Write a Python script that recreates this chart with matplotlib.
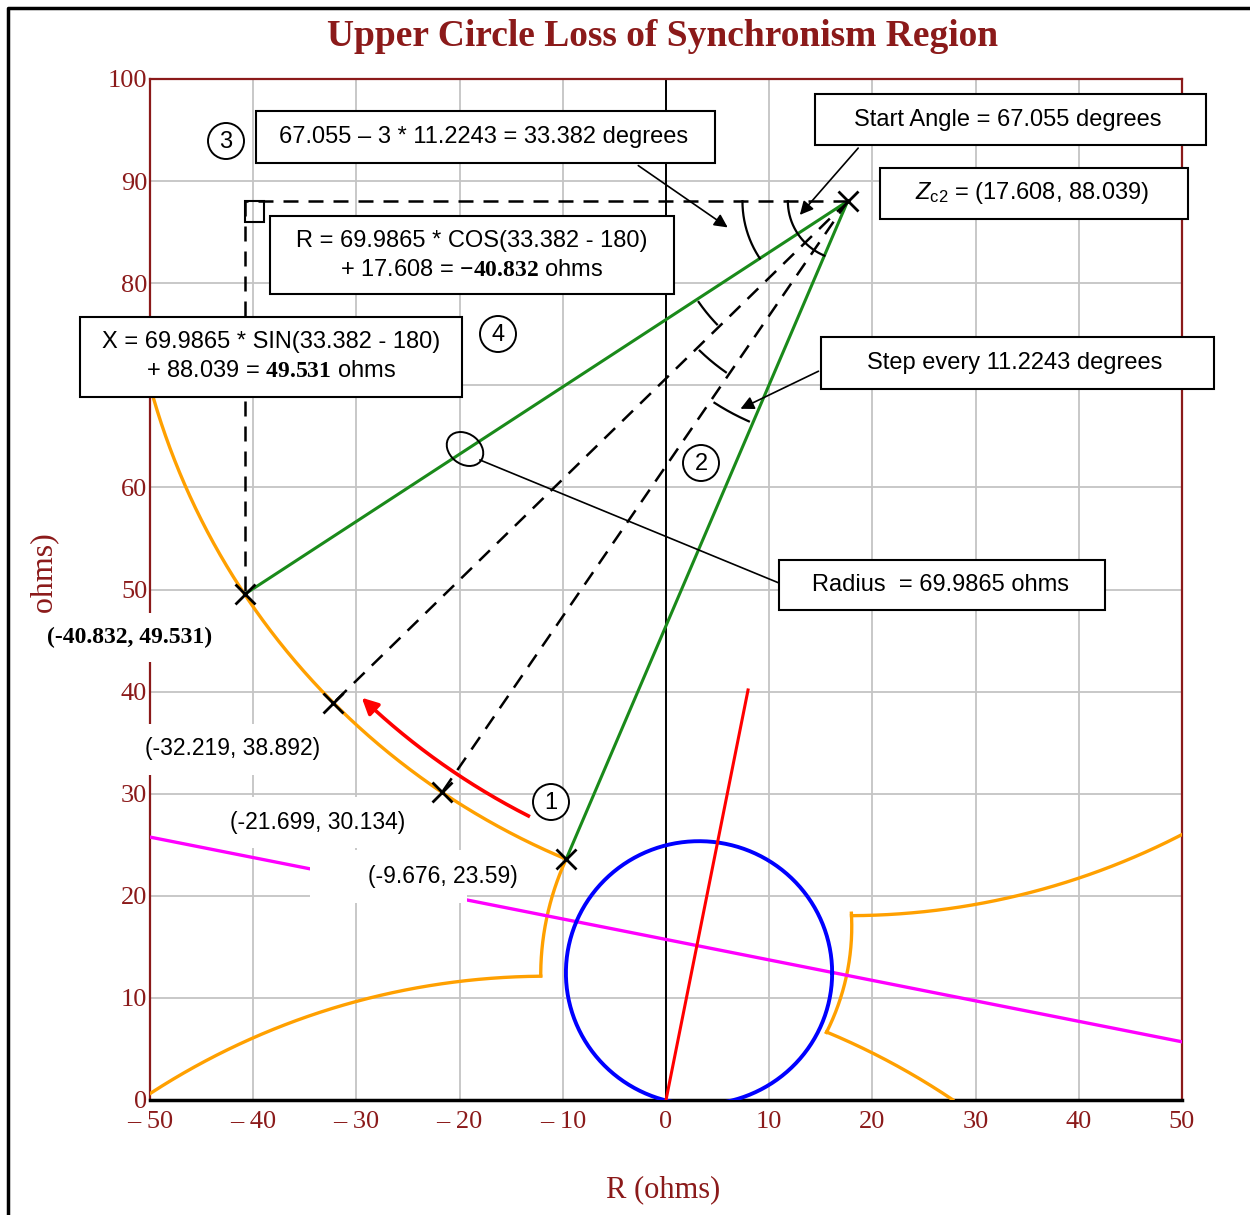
import numpy as np
import matplotlib
matplotlib.use("Agg")
import matplotlib.pyplot as plt
from matplotlib.patches import Rectangle, Ellipse

plt.rcParams['font.family'] = ['Liberation Sans', 'DejaVu Sans']
plt.rcParams['mathtext.fontset'] = 'custom'
plt.rcParams['mathtext.rm'] = 'Liberation Sans'
plt.rcParams['mathtext.it'] = 'Liberation Sans:italic'
plt.rcParams['mathtext.bf'] = 'Liberation Serif:bold'

# --- data ---
zc2 = (17.608, 88.039)
radius = 69.9865
start_angle = 67.055
step_angle = 11.2243

# the four step points on the upper circle
pts_r = [-9.676, -21.699, -32.219, -40.832]
pts_x = [23.59, 30.134, 38.892, 49.531]
pt_labels = ["(-9.676, 23.59)", "(-21.699, 30.134)", "(-32.219, 38.892)", "(-40.832, 49.531)"]

# upper circle arcs drawn (degrees around zc2)
upper_arcs = [(195.0, 247.055), (270.3, 297.6)]
# lower circle (mirror of the upper one about the blinder)
lower_center = (-11.56, -57.86)
lower_arcs = [(90.47, 123.3), (55.8, 67.2)]
# short connecting arcs between upper and lower circles
left_join = dict(c=(15.4, 12.2), r=27.54, a=(155.6, 180.0))
right_join = dict(c=(-5.2, 17.0), r=23.2, a=(-26.6, 3.2))

# blinder line
blinder_r = [-50, 50]
blinder_x = [25.75, 5.7]

# mho circle and line angle
mho_center = (3.2, 12.45)
mho_radius = 12.9
mho_line_r = [0, 7.95]
mho_line_x = [0, 40.16]

# red direction arrow (arc around zc2)
red_arc = dict(r=67.7, a=(242.8, 225.7))

xticks = [-50, -40, -30, -20, -10, 0, 10, 20, 30, 40, 50]
xtick_labels = ["\u2013 50", "\u2013 40", "\u2013 30", "\u2013 20", "\u2013 10", "0", "10", "20", "30", "40", "50"]
yticks = [0, 10, 20, 30, 40, 50, 60, 70, 80, 90, 100]

DARKRED = '#8b1a1a'
ORANGE = '#ffa000'
W, H = 1250, 1215


def arc(center, r, a0, a1, n=200):
    t = np.radians(np.linspace(a0, a1, n))
    return center[0] + r * np.cos(t), center[1] + r * np.sin(t)


def ff(x, y):
    # image pixel -> figure fraction
    return (x / W, 1 - y / H)


fig = plt.figure(figsize=(12.5, 12.15), dpi=100)
ax = fig.add_axes([150 / W, 1 - 1100 / H, 1032 / W, 1021 / H])
ax.set_xlim(-50, 50)
ax.set_ylim(0, 100)
ax.set_xticks(xticks)
ax.set_xticklabels(xtick_labels)
ax.set_yticks(yticks)
ax.grid(True, color='#c4c4c4', lw=1.3)
ax.set_axisbelow(True)
ax.tick_params(length=0, labelcolor=DARKRED, labelsize=19)
ax.tick_params(axis='x', pad=8)
ax.tick_params(axis='y', pad=2)
for lab in ax.get_xticklabels() + ax.get_yticklabels():
    lab.set_fontfamily('Liberation Serif')
for s in ['left', 'right', 'top']:
    ax.spines[s].set_color(DARKRED)
    ax.spines[s].set_linewidth(1.6)
ax.spines['bottom'].set_color('black')
ax.spines['bottom'].set_linewidth(2.5)
ax.axvline(0, color='black', lw=1.4, zorder=2)

# orange characteristic
for a0, a1 in upper_arcs:
    ax.plot(*arc(zc2, radius, a0, a1), color=ORANGE, lw=2.4, zorder=3)
for a0, a1 in lower_arcs:
    ax.plot(*arc(lower_center, radius, a0, a1), color=ORANGE, lw=2.4, zorder=3)
for j in (left_join, right_join):
    ax.plot(*arc(j['c'], j['r'], *j['a']), color=ORANGE, lw=2.4, zorder=3)

ax.plot(blinder_r, blinder_x, color='magenta', lw=2.4, zorder=3)
ax.plot(*arc(mho_center, mho_radius, 0, 360, 400), color='blue', lw=2.8, zorder=3)
ax.plot(mho_line_r, mho_line_x, color='red', lw=2.2, zorder=4)

# rays from zc2
for i, (r, x) in enumerate(zip(pts_r, pts_x)):
    if i in (0, 3):
        ax.plot([zc2[0], r], [zc2[1], x], color='#1a8a1a', lw=2.2, zorder=4)
    else:
        ax.plot([zc2[0], r], [zc2[1], x], color='black', lw=1.8, ls=(0, (6, 4)), zorder=4)

# projection of the last point
ax.plot([zc2[0], pts_r[3]], [zc2[1], zc2[1]], color='black', lw=1.8, ls=(0, (6, 4)), zorder=4)
ax.plot([pts_r[3], pts_r[3]], [zc2[1], pts_x[3]], color='black', lw=1.8, ls=(0, (6, 4)), zorder=4)
ax.add_patch(Rectangle((pts_r[3], zc2[1] - 2.0), 1.9, 2.0, fill=False, ec='black', lw=1.5, zorder=4))

ax.plot(pts_r + [zc2[0]], pts_x + [zc2[1]], ls='none', marker='x', ms=15, mew=2,
        color='black', zorder=6)

# angle arcs
angles = [np.degrees(np.arctan2(x - zc2[1], r - zc2[0])) % 360 for r, x in zip(pts_r, pts_x)]
ax.plot(*arc(zc2, 10.2, 180, angles[3]), color='black', lw=1.6, zorder=5)
ax.plot(*arc(zc2, 5.8, 180, angles[0]), color='black', lw=1.6, zorder=5)
for rr, (a0, a1) in zip([17.5, 20.5, 23.6], [(angles[3], angles[2]), (angles[2], angles[1]), (angles[1], angles[0])]):
    ax.plot(*arc(zc2, rr, a0 + 1, a1 - 1), color='black', lw=1.6, zorder=5)

# red direction arrow
rx, ry = arc(zc2, red_arc['r'], *red_arc['a'])
ax.plot(rx[:-12], ry[:-12], color='red', lw=2.6, zorder=5)
ax.annotate('', xy=(rx[-1], ry[-1]), xytext=(rx[-14], ry[-14]),
            arrowprops=dict(arrowstyle='-|>', color='red', lw=2.6, mutation_scale=24), zorder=5)

# --- annotations in figure pixels ---
def box(x0, y0, x1, y1, edge='black', z=10):
    fig.add_artist(Rectangle(ff(x0, y1), (x1 - x0) / W, (y1 - y0) / H, transform=fig.transFigure,
                             fc='white', ec=edge, lw=1.5, zorder=z))


def ftext(x, y, s, z=12, **kw):
    kw.setdefault('fontsize', 17)
    fig.text(*ff(x, y), s, ha=kw.pop('ha', 'center'), va=kw.pop('va', 'center'), zorder=z, **kw)


# white cover boxes behind point labels
box(28, 613, 232, 662, edge='none')
box(140, 724, 335, 775, edge='none')
box(215, 797, 420, 848, edge='none')
box(310, 850, 467, 903, edge='none')

ftext(130, 637, pt_labels[3], fontfamily='Liberation Serif', fontweight='bold', fontsize=17)
ftext(233, 749, pt_labels[2], fontsize=16.5)
ftext(318, 822, pt_labels[1], fontsize=16.5)
ftext(443, 877, pt_labels[0], fontsize=16.5)

# text boxes
box(256, 111, 715, 163)
ftext(484, 137, "67.055 \u2013 3 * 11.2243 = 33.382 degrees")
box(815, 94, 1206, 145)
ftext(1008, 120, "Start Angle = 67.055 degrees")
box(880, 168, 1188, 219)
ftext(1032, 193, r"$Z_{\mathrm{c2}}$ = (17.608, 88.039)")
box(270, 216, 674, 294)
ftext(472, 241, "R = 69.9865 * COS(33.382 - 180)")
ftext(472, 270, r"+ 17.608 = $\mathbf{-40.832}$ ohms")
box(80, 317, 462, 397)
ftext(271, 342, "X = 69.9865 * SIN(33.382 - 180)")
ftext(271, 371, r"+ 88.039 = $\mathbf{49.531}$ ohms")
box(821, 337, 1214, 389)
ftext(1015, 363, "Step every 11.2243 degrees")
box(779, 560, 1105, 610)
ftext(940, 585, "Radius  = 69.9865 ohms")

# circled numbers
for (cx, cy, s) in [(226, 141, "3"), (498, 334, "4"), (701, 463, "2"), (551, 802, "1")]:
    fig.add_artist(Ellipse(ff(cx, cy), 36 / W, 36 / H, transform=fig.transFigure,
                           fc='white', ec='black', lw=1.4, zorder=11))
    ftext(cx, cy + 1, s, fontsize=17)

# leader arrows
def fp(x, y):
    return (x, H - y)


for (x0, y0, x1, y1) in [(636, 164, 730, 229), (860, 146, 798, 217), (821, 370, 738, 410)]:
    fig.add_artist(matplotlib.text.Annotation('', xy=fp(x1, y1), xytext=fp(x0, y0),
                   xycoords='figure pixels', textcoords='figure pixels',
                   arrowprops=dict(arrowstyle='-|>', color='black', lw=1.2, mutation_scale=20)))
fig.add_artist(matplotlib.lines.Line2D([ff(779, 583)[0], ff(480, 460)[0]], [ff(779, 583)[1], ff(480, 460)[1]],
                                       transform=fig.transFigure, color='black', lw=1.2, zorder=9))
fig.add_artist(Ellipse(ff(465, 449), 40 / W, 30 / H, angle=-40, transform=fig.transFigure,
                       fill=False, ec='black', lw=1.4, zorder=9))

# titles and axis labels
fig.text(*ff(45, 594), "X (ohms)", rotation=90, ha='center', va='center', color=DARKRED,
         fontsize=23, fontfamily='Liberation Serif', zorder=1)
ftext(663, 1190, "R (ohms)", color=DARKRED, fontsize=22, fontfamily='Liberation Serif')
ftext(663, 37, "Upper Circle Loss of Synchronism Region", color=DARKRED, fontsize=27,
      fontfamily='Liberation Serif', fontweight='bold')

# outer frame
fig.add_artist(matplotlib.lines.Line2D([ff(8, 1215)[0], ff(8, 8)[0], 1.0], [0.0, ff(8, 8)[1], ff(8, 8)[1]],
                                       transform=fig.transFigure, color='black', lw=2.5))

fig.savefig("out.png", dpi=100)
